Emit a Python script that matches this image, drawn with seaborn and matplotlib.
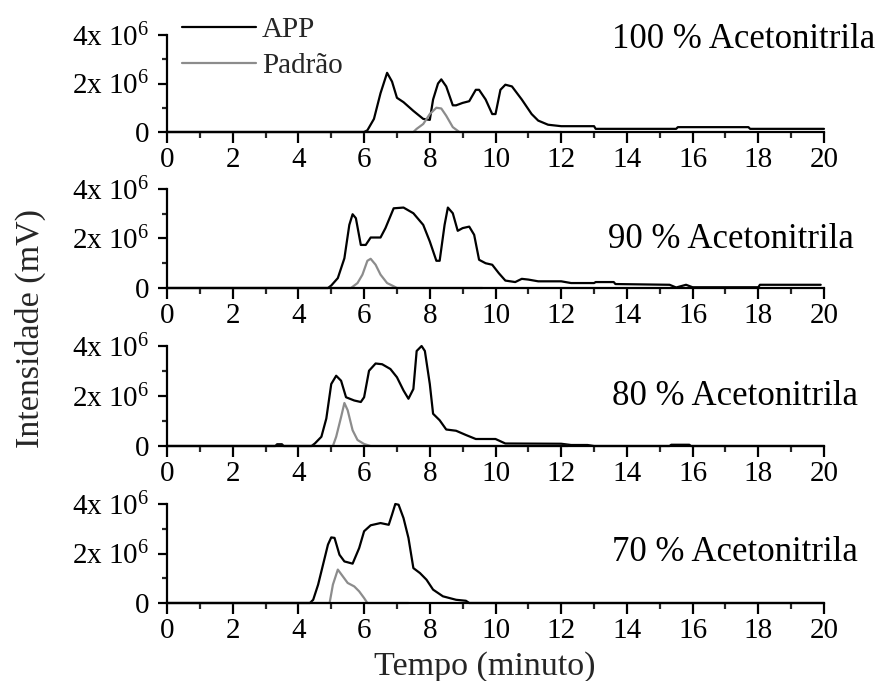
import numpy as np
import pandas as pd
import matplotlib
matplotlib.use("Agg")
import matplotlib.pyplot as plt
import seaborn as sns

# ---------------- data (intensity in units of 1e6 mV) ----------------
panel_labels = ["100 % Acetonitrila", "90 % Acetonitrila", "80 % Acetonitrila", "70 % Acetonitrila"]
series_names = ["APP", "Padrão"]
x_ticks = [0, 2, 4, 6, 8, 10, 12, 14, 16, 18, 20]
y_ticks = [0, 2, 4]
y_tick_labels = ["0", "2x 10$^{6}$", "4x 10$^{6}$"]

app100_x = [0, 6.0, 6.1, 6.3, 6.5, 6.7, 6.85, 7.0, 7.2, 7.5, 7.8, 8.0, 8.1, 8.25, 8.35, 8.5, 8.7, 8.8, 9.0, 9.2,
            9.4, 9.5, 9.7, 9.9, 10.0, 10.15, 10.3, 10.5, 10.8, 11.1, 11.3, 11.6, 12.0, 13.0, 13.05, 15.5, 15.55,
            17.7, 17.75, 20]
app100_y = [0, 0, 0.07, 0.54, 1.6, 2.44, 2.08, 1.41, 1.23, 0.87, 0.54, 0.5, 1.34, 2.0, 2.17, 1.88, 1.1, 1.1, 1.2, 1.27,
            1.74, 1.74, 1.34, 0.74, 0.74, 1.74, 1.95, 1.88, 1.34, 0.74, 0.47, 0.3, 0.24, 0.24, 0.13, 0.13, 0.2,
            0.2, 0.13, 0.13]
pad100_x = [0, 7.5, 7.6, 7.8, 8.0, 8.2, 8.35, 8.5, 8.7, 8.9, 12.0]
pad100_y = [0, 0, 0.13, 0.33, 0.74, 1.0, 0.97, 0.67, 0.2, 0, 0]

app90_x = [0, 4.9, 5.0, 5.2, 5.4, 5.55, 5.65, 5.75, 5.9, 6.05, 6.2, 6.5, 6.65, 6.9, 7.2, 7.5, 7.8, 8.0, 8.2, 8.3,
           8.45, 8.55, 8.7, 8.85, 9.0, 9.2, 9.35, 9.5, 9.7, 9.9, 10.1, 10.3, 10.6, 10.8, 11.0, 11.3, 12.0, 12.3,
           13.0, 13.05, 13.6, 13.65, 15.3, 15.5, 15.8, 16.0, 18.0, 18.05, 19.9]
app90_y = [0, 0, 0.1, 0.4, 1.2, 2.55, 2.98, 2.82, 1.74, 1.74, 2.04, 2.04, 2.42, 3.22, 3.25, 3.02, 2.55, 1.88, 1.1, 1.1,
           2.55, 3.25, 3.02, 2.31, 2.42, 2.48, 2.15, 1.14, 1.0, 0.94, 0.6, 0.3, 0.24, 0.37, 0.34, 0.27, 0.27, 0.2,
           0.2, 0.24, 0.24, 0.16, 0.13, 0.02, 0.13, 0.03, 0.03, 0.13, 0.13]
pad90_x = [0, 5.6, 5.8, 5.95, 6.1, 6.2, 6.35, 6.5, 6.7, 6.9, 7.0, 9.6]
pad90_y = [0, 0, 0.2, 0.54, 1.1, 1.18, 0.94, 0.54, 0.2, 0.07, 0, 0]

app80_x = [0, 3.3, 3.35, 3.5, 3.55, 4.4, 4.5, 4.7, 4.85, 5.0, 5.15, 5.3, 5.45, 5.7, 5.9, 6.0, 6.15, 6.35, 6.55, 6.8,
           7.0, 7.2, 7.35, 7.5, 7.6, 7.75, 7.85, 8.0, 8.1, 8.3, 8.5, 8.8, 9.1, 9.4, 10.0, 10.3, 12.0, 12.3, 12.8,
           13.0, 15.3, 15.35, 15.9, 15.95, 20]
app80_y = [0, 0, 0.07, 0.07, 0, 0, 0.1, 0.37, 1.1, 2.48, 2.81, 2.61, 1.95, 1.82, 1.76, 1.95, 3.01, 3.3, 3.27, 3.08,
           2.75, 2.22, 1.89, 2.28, 3.8, 4.0, 3.8, 2.48, 1.29, 1.03, 0.66, 0.61, 0.44, 0.28, 0.28, 0.1, 0.09, 0.04, 0.04,
           0, 0, 0.05, 0.05, 0, 0]
pad80_x = [0, 5.05, 5.15, 5.3, 5.4, 5.5, 5.65, 5.8, 6.0, 6.2, 12.2]
pad80_y = [0, 0, 0.37, 1.16, 1.72, 1.43, 0.63, 0.24, 0.08, 0, 0]

app70_x = [0, 4.35, 4.45, 4.6, 4.75, 4.9, 5.0, 5.1, 5.25, 5.4, 5.65, 5.85, 6.0, 6.2, 6.5, 6.75, 6.85, 6.95, 7.05, 7.2,
           7.35, 7.5, 7.7, 7.9, 8.1, 8.4, 8.8, 9.1, 9.2, 20]
app70_y = [0, 0, 0.13, 0.74, 1.55, 2.36, 2.65, 2.63, 1.95, 1.68, 1.59, 2.22, 2.9, 3.14, 3.23, 3.16, 3.57, 4.0, 3.97, 3.43,
           2.63, 1.41, 1.21, 0.94, 0.54, 0.27, 0.13, 0.09, 0, 0]
pad70_x = [0, 4.95, 5.05, 5.2, 5.35, 5.5, 5.7, 5.85, 6.0, 6.1, 7.35]
pad70_y = [0, 0, 0.74, 1.35, 1.08, 0.81, 0.67, 0.47, 0.2, 0, 0]

panels = [
    (app100_x, app100_y, pad100_x, pad100_y),
    (app90_x, app90_y, pad90_x, pad90_y),
    (app80_x, app80_y, pad80_x, pad80_y),
    (app70_x, app70_y, pad70_x, pad70_y),
]

# ---------------- style ----------------
sns.set_style("ticks")
plt.rcParams["font.family"] = ["Liberation Serif", "DejaVu Serif"]
plt.rcParams["mathtext.fontset"] = "custom"
plt.rcParams["mathtext.rm"] = "Liberation Serif"
plt.rcParams["mathtext.it"] = "Liberation Serif"

W, H = 883, 681
fig = plt.figure(figsize=(W / 100, H / 100), dpi=100)
fig.patch.set_facecolor("white")

left = 167 / W
width = (824 - 167) / W
tops = [35, 189, 346, 504]
bottoms = [132, 288, 446, 603]
label_x = [612, 608, 612, 612]
label_base = [48, 248, 405, 561]

fs_tick = 21
fs_panel = 25
fs_axis = 24.5
for i, (ax_, ay_, px_, py_) in enumerate(panels):
    b = 1 - bottoms[i] / H
    h = (bottoms[i] - tops[i]) / H
    ax = fig.add_axes([left, b, width, h])
    ax.set_facecolor("white")
    df_app = pd.DataFrame({"t": ax_, "v": ay_})
    df_pad = pd.DataFrame({"t": px_, "v": py_})
    sns.lineplot(data=df_app, x="t", y="v", ax=ax, color="black", lw=1.6,
                 sort=False, estimator=None, label=series_names[0] if i == 0 else None)
    sns.lineplot(data=df_pad, x="t", y="v", ax=ax, color="#8c8c8c", lw=1.6,
                 sort=False, estimator=None, label=series_names[1] if i == 0 else None)
    for ln in ax.lines:
        ln.set_clip_on(False)
    ax.set_xlim(0, 20)
    ax.set_ylim(0, 4)
    ax.set_xticks(x_ticks)
    ax.set_xticks(np.arange(1, 20, 2), minor=True)
    ax.set_yticks(y_ticks)
    ax.set_yticklabels(y_tick_labels)
    ax.set_yticks([1, 3], minor=True)
    ax.set_xlabel("")
    ax.set_ylabel("")
    for s in ["top", "right"]:
        ax.spines[s].set_visible(False)
    for s in ["left", "bottom"]:
        ax.spines[s].set_linewidth(1.6)
        ax.spines[s].set_color("black")
    ax.tick_params(axis="x", which="major", direction="out", length=8, width=1.6,
                   labelsize=fs_tick, colors="black", pad=3)
    ax.tick_params(axis="x", which="minor", direction="out", length=4.5, width=1.6)
    ax.tick_params(axis="y", which="major", direction="out", length=6.5, width=1.6,
                   labelsize=fs_tick, colors="black", pad=6)
    ax.tick_params(axis="y", which="minor", direction="out", length=3.5, width=1.6)
    if i == 0:
        ax.legend(loc="upper left", bbox_to_anchor=(182 / W, 1 - 17 / H), bbox_transform=fig.transFigure,
                  frameon=False, fontsize=fs_tick, handlelength=2.55, handletextpad=0.2,
                  labelspacing=0.33, borderaxespad=0, borderpad=0)
    else:
        leg = ax.get_legend()
        if leg is not None:
            leg.remove()
    fig.text(label_x[i] / W, 1 - label_base[i] / H, panel_labels[i], ha="left", va="baseline",
             fontsize=fs_panel, color="black")

fig.text(30 / W, 1 - 328 / H, "Intensidade (mV)", rotation=90, ha="center", va="center", fontsize=fs_axis)
fig.text(485 / W, 1 - 675 / H, "Tempo (minuto)", ha="center", va="baseline", fontsize=fs_axis)

fig.savefig("out.png", dpi=100, facecolor="white")
